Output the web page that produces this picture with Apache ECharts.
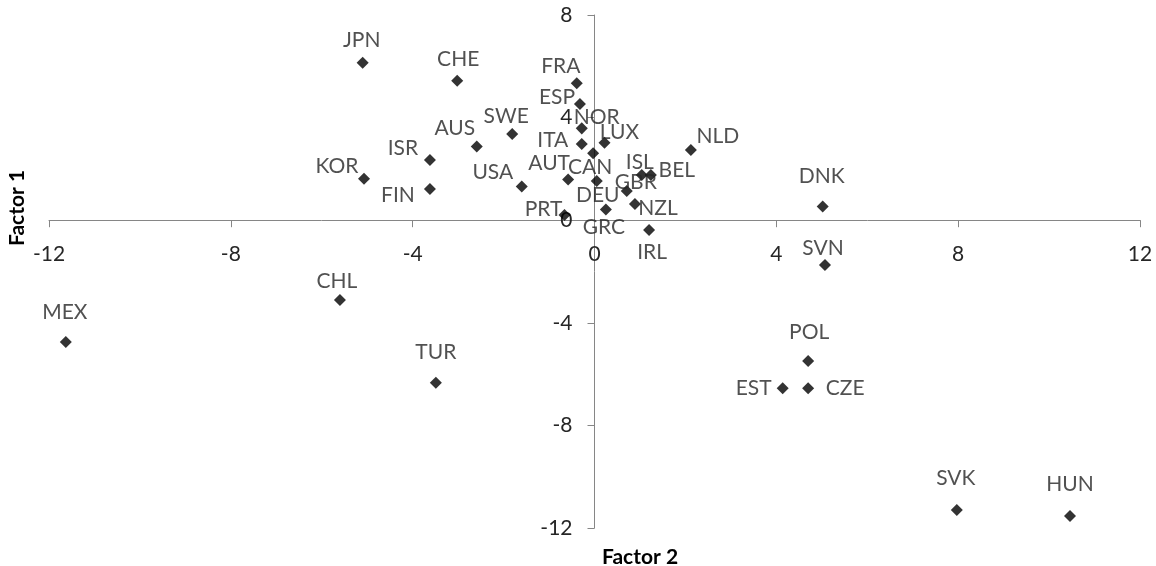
<!DOCTYPE html>
<html>
<head>
<meta charset="utf-8">
<script src="https://cdn.jsdelivr.net/npm/echarts@6/dist/echarts.min.js"></script>
<style>
html,body{margin:0;padding:0;background:#fff;}
#chart{width:1156px;height:566px;}
</style>
</head>
<body>
<div id="chart"></div>
<script>
// Country codes
const codes = ['JPN','CHE','SWE','AUS','ISR','KOR','FIN','USA','FRA','ESP','NOR','ITA','LUX','CAN','AUT','DEU','GRC','PRT','ISL','BEL','GBR','NZL','IRL','NLD','DNK','SVN','POL','EST','CZE','SVK','HUN','CHL','TUR','MEX'];
// Factor 2 (horizontal)
const factor2 = [-5.10,-3.02,-1.81,-2.59,-3.62,-5.07,-3.62,-1.60,-0.39,-0.32,-0.28,-0.28,0.22,-0.03,-0.58,0.05,0.25,-0.66,1.04,1.24,0.71,0.89,1.20,2.12,5.02,5.07,4.70,4.14,4.70,7.97,10.46,-5.60,-3.49,-11.63];
// Factor 1 (vertical)
const factor1 = [6.14,5.44,3.36,2.87,2.35,1.62,1.22,1.31,5.34,4.53,3.58,2.97,3.02,2.61,1.59,1.53,0.42,0.20,1.76,1.76,1.14,0.63,-0.38,2.74,0.53,-1.75,-5.49,-6.55,-6.55,-11.30,-11.53,-3.11,-6.34,-4.75];
// Axis ticks
const xTicks = {min:-12, max:12, interval:4};
const yTicks = {min:-12, max:8, interval:4};

// Label placement (pixel offsets from each marker), kept separate from data
const labelOffsets = [[-1,-22],[1,-21],[-6,-18],[-22,-18],[-27,-12],[-27,-12],[-32,6],[-29,-14],[-16,-17],[-23,-7],[15,-11],[-29,-4],[15,-11],[-3,14],[-19,-16],[1,14],[-2,18],[-21,-6],[-2,-13],[26,-5],[9,-9],[23,4],[3,22],[27,-14],[-1,-30],[-2,-17],[1,-29],[-29,0],[37,0],[-1,-32],[0,-32],[-3,-19],[0,-31],[-1,-30]];

const FONT = 'Lato';
const TXT = '#262626';
const AXC = '#868686';

const W = 1156, H = 566;
const G = {left:49, right:16, top:15, bottom:38};
const gridW = W - G.left - G.right;
const gridH = H - G.top - G.bottom;
// shift axes so they cross at zero (labels travel with the line)
const xAxisOffset = -gridH * (0 - yTicks.min) / (yTicks.max - yTicks.min);
const yAxisOffset = -gridW * (0 - xTicks.min) / (xTicks.max - xTicks.min);

const chart = echarts.init(document.getElementById('chart'));
const data = codes.map((c,i)=>({name:c, value:[factor2[i], factor1[i]]}));

chart.setOption({
  animation:false,
  backgroundColor:'#ffffff',
  grid:{left:G.left,right:G.right,top:G.top,bottom:G.bottom,containLabel:false},
  xAxis:{
    type:'value', min:xTicks.min, max:xTicks.max, interval:xTicks.interval,
    position:'bottom', offset:xAxisOffset,
    splitLine:{show:false},
    axisLine:{show:true,onZero:false,lineStyle:{color:AXC,width:1}},
    axisTick:{show:true,inside:false,length:7,lineStyle:{color:AXC}},
    axisLabel:{color:TXT,fontFamily:FONT,fontSize:21,margin:24}
  },
  yAxis:{
    type:'value', min:yTicks.min, max:yTicks.max, interval:yTicks.interval,
    position:'left', offset:yAxisOffset,
    splitLine:{show:false},
    axisLine:{show:true,onZero:false,lineStyle:{color:AXC,width:1}},
    axisTick:{show:true,inside:false,length:7,lineStyle:{color:AXC}},
    axisLabel:{color:TXT,fontFamily:FONT,fontSize:21,margin:22}
  },
  graphic:[
    {type:'text',x:640,y:557,style:{text:'Factor 2',fill:'#000',font:'bold 21px Lato',textAlign:'center',textVerticalAlign:'middle'}},
    {type:'text',x:17,y:208,rotation:Math.PI/2,style:{text:'Factor 1',fill:'#000',font:'bold 21px Lato',textAlign:'center',textVerticalAlign:'middle'}}
  ],
  series:[{
    type:'scatter',
    symbol:'rect',
    symbolSize:8.5,
    symbolRotate:45,
    itemStyle:{color:'#000'},
    label:{show:true,position:'inside',formatter:'{b}',color:TXT,fontFamily:FONT,fontSize:21,align:'center',verticalAlign:'middle',textBorderWidth:0},
    labelLayout:function(p){
      const o = labelOffsets[p.dataIndex];
      return {dx:o[0], dy:o[1], hideOverlap:false};
    },
    emphasis:{disabled:true},
    data:data
  }]
});
</script>
</body>
</html>
